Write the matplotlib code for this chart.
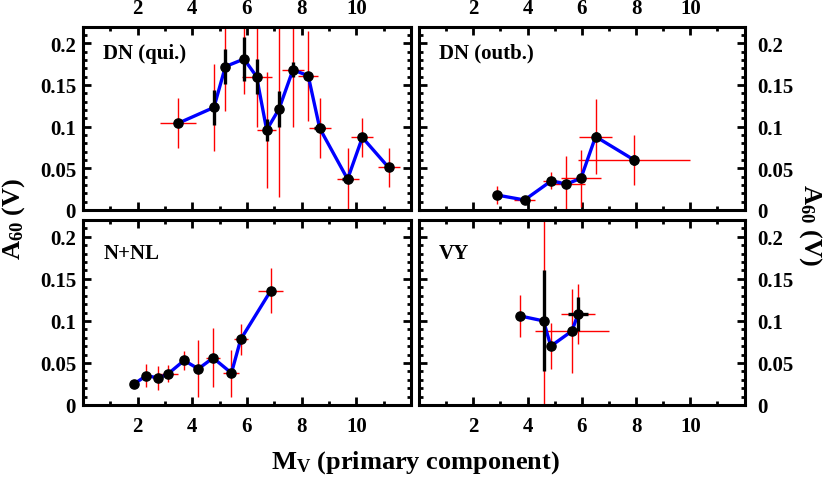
import matplotlib
matplotlib.use("Agg")
from matplotlib import pyplot as plt
from matplotlib.ticker import MultipleLocator, FixedLocator

plt.rcParams["font.family"] = ["Liberation Serif", "DejaVu Serif"]
plt.rcParams["font.weight"] = "bold"
plt.rcParams["mathtext.fontset"] = "custom"
plt.rcParams["mathtext.rm"] = "Liberation Serif:bold"
plt.rcParams["mathtext.it"] = "Liberation Serif:bold"
plt.rcParams["mathtext.bf"] = "Liberation Serif:bold"
plt.rcParams["mathtext.default"] = "rm"

# DN (quiescent)
dnq_x = [3.48, 4.79, 5.21, 5.89, 6.35, 6.72, 7.17, 7.68, 8.24, 8.66, 9.68, 10.22, 11.18]
dnq_y = [0.104, 0.123, 0.172, 0.181, 0.160, 0.096, 0.121, 0.168, 0.161, 0.098, 0.037, 0.087, 0.051]
dnq_yerr = [0.030, 0.052, 0.053, 0.042, 0.061, 0.070, 0.105, 0.068, 0.054, 0.036, 0.037, 0.023, 0.023]
dnq_xerr = [0.65, 0.0, 0.0, 0.0, 0.55, 0.35, 0.15, 0.41, 0.37, 0.40, 0.40, 0.40, 0.40]
dnq_yerr_b = [0.0, 0.021, 0.021, 0.026, 0.021, 0.013, 0.022, 0.009, 0.004, 0.004, 0.004, 0.0, 0.0]
dnq_xerr_b = [0.0, 0.05, 0.05, 0.05, 0.05, 0.1, 0.1, 0.12, 0.15, 0.2, 0.2, 0.0, 0.0]

# DN (outburst)
dno_x = [2.86, 3.89, 4.88, 5.43, 5.97, 6.51, 7.93]
dno_y = [0.018, 0.012, 0.035, 0.031, 0.038, 0.088, 0.060]
dno_yerr = [0.011, 0.003, 0.010, 0.034, 0.034, 0.045, 0.030]
dno_xerr = [0.15, 0.40, 0.30, 0.70, 0.75, 0.62, 2.05]
dno_yerr_b = [0.005, 0.0, 0.004, 0.0, 0.005, 0.005, 0.006]
dno_xerr_b = [0.1, 0.15, 0.15, 0.1, 0.1, 0.1, 0.1]

# N + NL
nnl_x = [1.87, 2.32, 2.76, 3.11, 3.70, 4.22, 4.76, 5.43, 5.77, 6.87]
nnl_y = [0.025, 0.035, 0.032, 0.037, 0.053, 0.043, 0.056, 0.038, 0.078, 0.136]
nnl_yerr = [0.0, 0.014, 0.014, 0.010, 0.011, 0.034, 0.035, 0.028, 0.018, 0.027]
nnl_xerr = [0.0, 0.12, 0.12, 0.37, 0.12, 0.0, 0.27, 0.29, 0.26, 0.45]
nnl_yerr_b = [0.0] * 10
nnl_xerr_b = [0.0] * 10

# VY
vy_x = [3.71, 4.59, 4.86, 5.64, 5.86]
vy_y = [0.106, 0.100, 0.070, 0.088, 0.108]
vy_yerr = [0.025, 0.15, 0.027, 0.050, 0.036]
vy_xerr = [0.0, 0.0, 0.15, 1.37, 0.63]
vy_yerr_b = [0.0, 0.060, 0.0, 0.0, 0.020]
vy_xerr_b = [0.0, 0.0, 0.0, 0.0, 0.36]

panels = [
    ("DN (qui.)", dnq_x, dnq_y, dnq_xerr, dnq_yerr, dnq_xerr_b, dnq_yerr_b),
    ("DN (outb.)", dno_x, dno_y, dno_xerr, dno_yerr, dno_xerr_b, dno_yerr_b),
    ("N+NL", nnl_x, nnl_y, nnl_xerr, nnl_yerr, nnl_xerr_b, nnl_yerr_b),
    ("VY", vy_x, vy_y, vy_xerr, vy_yerr, vy_xerr_b, vy_yerr_b),
]

x_ticks = [2, 4, 6, 8, 10]
y_ticks = [0, 0.05, 0.1, 0.15, 0.2]
y_labels = ["0", "0.05", "0.1", "0.15", "0.2"]

W, H = 830, 485
# axes boxes in pixels: left, top, right, bottom
boxes = [
    (83, 27.5, 411, 211),
    (419, 27.5, 744.5, 211),
    (83, 221, 411, 406),
    (419, 221, 744.5, 406),
]

fig = plt.figure(figsize=(8.3, 4.85), dpi=100)

for i, (name, x, y, xe, ye, xeb, yeb) in enumerate(panels):
    l, t, r, b = boxes[i]
    ax = fig.add_axes([l / W, 1 - b / H, (r - l) / W, (b - t) / H])
    top_row = i < 2
    left_col = i % 2 == 0

    ax.errorbar(x, y, xerr=xe, yerr=ye, fmt="none", ecolor="red",
                elinewidth=1.0, capsize=0, zorder=2)
    ax.errorbar(x, y, xerr=xeb, yerr=yeb, fmt="none", ecolor="black",
                elinewidth=2.4, capsize=0, zorder=4)
    ax.plot(x, y, "-", color="#0000ff", lw=2.4, zorder=3)
    ax.plot(x, y, "o", color="black", ms=6.6, zorder=5)

    ax.set_xlim(0, 12)
    ax.set_ylim(0, 0.22)
    ax.xaxis.set_major_locator(FixedLocator(x_ticks))
    ax.xaxis.set_minor_locator(MultipleLocator(1))
    ax.yaxis.set_major_locator(FixedLocator(y_ticks))
    ax.yaxis.set_minor_locator(MultipleLocator(0.01))
    ax.set_xticklabels([str(v) for v in x_ticks])
    ax.set_yticklabels(y_labels)

    ax.tick_params(which="both", direction="in", top=True, bottom=True,
                   left=True, right=True, width=2.0, labelsize=15)
    ax.tick_params(which="major", length=5.5)
    ax.tick_params(which="minor", length=3.0)
    ax.tick_params(axis="x", labeltop=top_row, labelbottom=not top_row,
                   pad=6 if top_row else 8)
    ax.tick_params(axis="y", labelleft=left_col, labelright=not left_col,
                   pad=5 if left_col else 9)
    for sp in ax.spines.values():
        sp.set_linewidth(2.2)

    ty = 0.858 if top_row else 0.82
    ax.text(0.062, ty, name, transform=ax.transAxes, fontsize=15,
            fontweight="bold", va="center", ha="left")

fig.text(0.5, 1 - 463 / H, r"M$_{V}$ (primary component)", fontsize=19,
         fontweight="bold", ha="center", va="center")
fig.text(0.0165, 1 - 219 / H, r"A$_{60}$ (V)", fontsize=19, fontweight="bold",
         rotation=90, ha="center", va="center")
fig.text(0.977, 1 - 225 / H, r"A$_{60}$ (V)", fontsize=19, fontweight="bold",
         rotation=-90, ha="center", va="center")

fig.savefig("out.png", dpi=100)
